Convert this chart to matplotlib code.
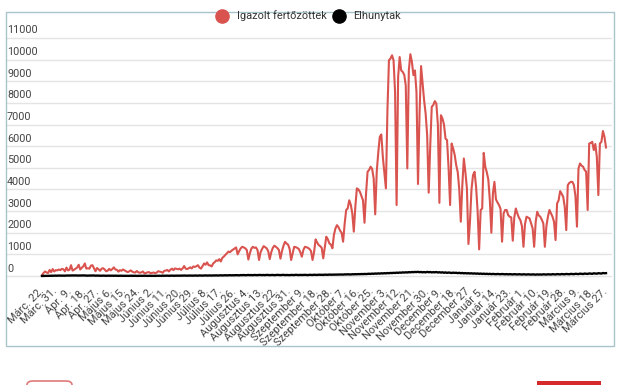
import numpy as np
import matplotlib
matplotlib.use("Agg")
import matplotlib.pyplot as plt
from matplotlib.patches import Rectangle, FancyBboxPatch
from matplotlib.lines import Line2D
import matplotlib.transforms as mtrans

plt.rcParams['font.family'] = ['Roboto', 'DejaVu Sans']

# ---------------- data ----------------
x_labels = ["Márc. 22.", "Márc. 31.", "Ápr. 9.", "Ápr. 18.", "Ápr. 27.", "Május 6.",
            "Május 15.", "Május 24.", "Június 2.", "Június 11.", "Június 20.", "Június 29.",
            "Július 8.", "Július 17.", "Július 26.", "Augusztus 4.", "Augusztus 13.",
            "Augusztus 22.", "Augusztus 31.", "Szeptember 9.", "Szeptember 18.",
            "Szeptember 28.", "Október 7.", "Október 16.", "Október 25.", "November 3.",
            "November 12.", "November 21.", "November 30.", "December 9.", "December 18.",
            "December 27", "Január 5.", "Január 14.", "Január 23.", "Február 1.",
            "Február 10.", "Február 19.", "Február 28.", "Március 9.", "Március 18.",
            "Március 27."]

cases = [
    30, 140, 210, 160, 140, 280, 180,
    320, 210, 270, 260, 300, 270, 330,
    310, 215, 390, 260, 290, 500, 250,
    290, 340, 390, 520, 300, 380, 440,
    580, 340, 360, 340, 480, 500, 360,
    220, 370, 310, 240, 340, 360, 300,
    220, 250, 330, 260, 320, 400, 300,
    290, 200, 270, 240, 300, 260, 220,
    180, 210, 260, 205, 170, 160, 230,
    170, 150, 165, 210, 125, 135, 170,
    180, 130, 145, 160, 135, 155, 220,
    200, 185, 150, 240, 250, 280, 210,
    290, 340, 270, 350, 330, 310, 340,
    280, 350, 460, 340, 320, 360, 400,
    350, 440, 420, 450, 500, 390, 340,
    450, 580, 520, 630, 500, 490, 440,
    580, 640, 720, 700, 780, 670, 840, 900,
    980, 1050, 1130, 1100, 1170, 1220, 1270, 1320,
    1000, 1150, 1280, 1350, 1320, 1280, 1200,
    760, 1050, 1270, 1350, 1300, 1320, 1200,
    740, 1100, 1250, 1380, 1330, 1280, 1150,
    780, 1100, 1300, 1400, 1350, 1290, 1200,
    800, 1150, 1400, 1580, 1500, 1450, 1250,
    740, 1050, 1350, 1330, 1300, 1250, 1100,
    890, 1200, 1350, 1330, 1300, 1250, 1150,
    740, 1100, 1690, 1550, 1430, 1380, 1300,
    815, 1300, 1815, 1700, 1510, 1450,
    1280, 1900, 2200, 2350, 2250, 2100, 2000,
    1585, 2400, 3050, 3120, 3500, 3300, 2900,
    2050, 3200, 4050, 4000, 3890, 3700, 3500,
    2460, 3800, 4815, 4900, 5050, 4950, 4500,
    2850, 4815, 5700, 6430, 6540, 5500, 4800,
    4050, 7660, 9970, 10050, 10200, 9970, 8500,
    3280, 9200, 10120, 9500, 9430, 9300, 8800,
    4970, 9500, 10250, 9900, 9280, 9500, 8500,
    4250, 7500, 9700, 8900, 8120, 7500, 6500,
    3850, 6000, 7820, 7900, 8080, 7970, 7000,
    3380, 7430, 7280, 7000, 6350, 6280, 5000,
    3280, 6120, 5890, 5600, 5120, 4800, 4000,
    2510, 4200, 5430, 4800, 4050, 1480, 2510, 4000,
    4660, 4815, 4120, 3000, 1230, 3050, 3120, 5690,
    5050, 4800, 4460, 3500, 2000, 3800, 4350, 3540,
    3400, 3280, 3100, 1585, 2890, 3050, 3050, 2815,
    2740, 2710, 1630, 2700, 3120, 2890, 2700, 2580,
    2300, 1350, 2400, 2740, 2700, 2660, 2430, 2200,
    1350, 2500, 2970, 2800, 2740, 2600, 2430, 1350,
    2300, 2740, 3050, 2900, 2740, 2500, 1660, 3350,
    3500, 3920, 3800, 3660, 3200, 2120, 4200, 4300,
    4350, 4350, 4200, 3700, 2280, 4970, 5200, 5100,
    5050, 4900, 4820, 3050, 6120, 6150, 6200, 5820,
    6100, 5500, 3740, 6120, 6200, 6700, 6430, 5940,
]

deaths = [
    2, 3, 5, 4, 7, 8, 10, 13, 14, 18,
    12, 22, 16, 19, 17, 14, 22, 20, 21, 24,
    26, 23, 27, 21, 22, 19, 28, 22, 26, 17,
    19, 21, 18, 25, 24, 15, 19, 16, 17, 12,
    18, 14, 10, 15, 12, 13, 15, 11, 14, 10,
    9, 12, 13, 8, 10, 11, 9, 7, 13, 10,
    8, 11, 6, 9, 7, 10, 8, 12, 9, 6,
    10, 8, 11, 7, 9, 14, 10, 12, 8, 15,
    11, 13, 16, 10, 14, 18, 12, 15, 20, 17,
    13, 19, 16, 22, 18, 14, 21, 17, 20, 15,
    23, 19, 16, 25, 21, 18, 24, 27, 20, 22,
    26, 19, 28, 24, 30, 22, 27, 33, 25, 29,
    35, 28, 31, 38, 30, 36, 33, 40, 37, 31,
    42, 38, 45, 35, 41, 47, 39, 44, 36, 48,
    42, 38, 50, 45, 41, 47, 39, 52, 44, 40,
    46, 49, 38, 43, 51, 45, 41, 48, 53, 40,
    47, 44, 39, 50, 46, 42, 55, 48, 43, 51,
    45, 49, 53, 47, 41, 56, 50, 46, 58, 52,
    48, 61, 54, 57, 50, 63, 59, 55, 66, 60,
    62, 68, 64, 71, 66, 73, 69, 65, 75, 72,
    78, 74, 70, 82, 77, 85, 80, 88, 84, 92,
    87, 95, 90, 98, 104, 96, 110, 102, 115, 108,
    120, 112, 125, 118, 130, 122, 136, 128, 142, 135,
    148, 140, 155, 146, 160, 152, 168, 158, 172, 163,
    178, 170, 184, 175, 188, 180, 193, 176, 186, 170,
    182, 168, 190, 174, 185, 166, 178, 170, 184, 162,
    175, 158, 170, 150, 166, 145, 160, 152, 138, 155,
    143, 150, 132, 147, 128, 140, 122, 135, 118, 130,
    115, 126, 110, 122, 105, 118, 100, 112, 96, 108,
    92, 104, 88, 100, 85, 96, 90, 82, 94, 86,
    80, 92, 84, 78, 88, 74, 86, 80, 72, 84,
    76, 70, 82, 74, 68, 80, 72, 66, 78, 70,
    64, 76, 68, 62, 74, 66, 72, 64, 78, 70,
    66, 80, 72, 68, 84, 76, 70, 88, 80, 74,
    90, 82, 78, 94, 86, 80, 98, 90, 84, 102,
    94, 88, 108, 98, 92, 112, 104, 96, 118, 108,
    100, 124, 114, 106, 130, 120, 112, 138, 126, 132,
]

y_ticks = list(range(0, 12000, 1000))
series_names = ["Igazolt fertőzöttek", "Elhunytak"]
red = "#d9534f"

# ---------------- figure ----------------
W, H = 619, 385
fig = plt.figure(figsize=(W / 100, H / 100), dpi=100)

def fx(px):
    return px / W

def fy(py):
    return 1 - py / H

# outer frame
fig.add_artist(Rectangle((fx(6), fy(346)), fx(614) - fx(6), fy(12) - fy(346),
                         transform=fig.transFigure, fill=False,
                         edgecolor="#a9c3cb", lw=1.0))

n = len(cases)
k = 564 / (n - 1)          # pixel per category
ax_l, ax_r, ax_t, ax_b = 7, 612, 14, 280
ax = fig.add_axes([fx(ax_l), fy(ax_b), fx(ax_r) - fx(ax_l), fy(ax_t) - fy(ax_b)])
ax.set_xlim(-(42 - ax_l) / k, (n - 1) + (ax_r - 606) / k)
ppu = 21.64 / 1000
ax.set_ylim(-(ax_b - 276) / ppu, (276 - ax_t) / ppu)

for s in ax.spines.values():
    s.set_visible(False)

# gridlines and inside y labels
for v in y_ticks:
    ax.axhline(v, color="#e4e4e4", lw=1.0, zorder=0)
off = mtrans.offset_copy(ax.get_yaxis_transform(), fig=fig, x=0, y=2.5, units='dots')
for v in y_ticks:
    ax.text(0.0, v, str(v), transform=off, ha='left', va='bottom',
            fontsize=7.8, color="#444444")
ax.set_yticks([])

xs = np.arange(n)
ax.plot(xs, cases, color=red, lw=1.5, zorder=3, solid_joinstyle='round')
ax.plot(xs, deaths, color="black", lw=1.7, zorder=4, solid_joinstyle='round')

tick_pos = np.arange(len(x_labels)) * 9
ax.set_xticks(tick_pos)
ax.set_xticklabels(x_labels, rotation=45, ha='right', va='center',
                   rotation_mode='anchor', fontsize=7.9, color="#444444")
ax.tick_params(axis='x', length=0, pad=7)

# legend
leg_y = fy(16)
fig.add_artist(Line2D([fx(222)], [leg_y], marker='o', ms=9.5, color=red,
                      transform=fig.transFigure, lw=0))
fig.text(fx(237), leg_y, series_names[0], ha='left', va='center',
         fontsize=7.9, color="#333333")
fig.add_artist(Line2D([fx(339)], [leg_y], marker='o', ms=9.5, color="black",
                      transform=fig.transFigure, lw=0))
fig.text(fx(353), leg_y, series_names[1], ha='left', va='center',
         fontsize=7.9, color="#333333")

# partially visible buttons at the bottom edge
fig.add_artist(FancyBboxPatch((fx(27), fy(392)), fx(72) - fx(27), fy(381) - fy(392),
                              boxstyle="round,pad=0,rounding_size=0.01",
                              transform=fig.transFigure, facecolor="white",
                              edgecolor="#e07a7a", lw=1.2))
fig.add_artist(Rectangle((fx(537), fy(392)), fx(601) - fx(537), fy(381) - fy(392),
                         transform=fig.transFigure, facecolor="#d42a2a",
                         edgecolor="none"))

fig.savefig("out.png", dpi=100)
